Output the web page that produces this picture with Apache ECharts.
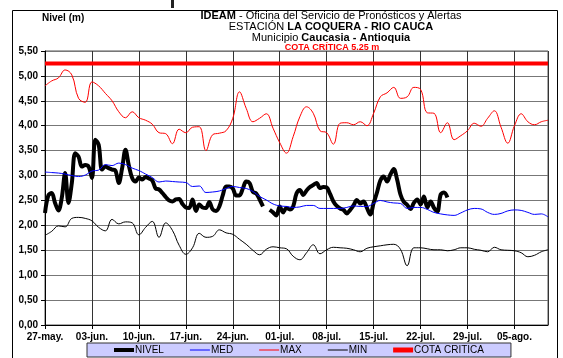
<!DOCTYPE html>
<html>
<head>
<meta charset="utf-8">
<script src="https://cdn.jsdelivr.net/npm/echarts@6/dist/echarts.min.js"></script>
<style>
html,body{margin:0;padding:0;background:#fff;}
#c{width:563px;height:358px;}
</style>
</head>
<body>
<div id="c"></div>
<script>
// ---- Data ----
var xTickLabels = ['27-may.','03-jun.','10-jun.','17-jun.','24-jun.','01-jul.','08-jul.','15-jul.','22-jul.','29-jul.','05-ago.'];
var yTickLabels = ['0,00','0,50','1,00','1,50','2,00','2,50','3,00','3,50','4,00','4,50','5,00','5,50'];
var seriesNames = ['NIVEL','MED','MAX','MIN','COTA CRITICA'];
var cotaCritica = 5.25;
var daysShown = 75;

// NIVEL: two readings per day starting 27-may (null = missing)
var nivel = [2.25,2.60,2.65,2.45,2.30,2.55,3.05,2.45,2.85,3.45,
  3.38,3.18,3.21,3.18,2.95,3.72,3.62,3.12,3.18,3.15,
  3.12,3.10,2.85,3.15,3.52,3.20,2.95,2.88,2.96,2.92,
  2.97,2.94,2.90,2.74,2.72,2.65,2.57,2.50,2.48,2.52,
  2.53,2.43,2.36,2.35,2.52,2.29,2.42,2.36,2.35,2.47,
  2.32,2.29,2.38,2.60,2.78,2.78,2.74,2.60,2.60,2.74,
  2.88,2.85,2.67,2.64,2.52,2.38,null,2.31,2.26,2.20,
  2.38,2.26,2.35,2.32,2.38,2.64,2.71,2.61,2.70,2.77,
  2.81,2.85,2.75,2.77,2.76,2.63,2.48,2.39,2.34,2.31,
  2.24,2.31,2.40,2.51,2.44,2.48,2.35,2.22,2.45,2.66,
  2.90,2.98,2.88,3.02,3.13,2.92,2.62,2.47,2.41,2.33,
  2.45,2.52,2.42,2.58,2.36,2.48,2.35,2.28,2.62,2.66,
  2.56];

// Daily historical statistics starting 27-may
var med = [3.07,3.06,3.05,3.03,3.00,2.98,3.01,3.09,3.11,3.22,
  3.20,3.25,3.22,3.15,3.10,3.03,2.96,2.87,2.89,2.88,
  2.87,2.86,2.78,2.79,2.66,2.67,2.69,2.74,2.78,2.76,
  2.74,2.68,2.58,2.51,2.43,2.39,2.38,2.36,2.37,2.40,
  2.40,2.34,2.34,2.34,2.34,2.36,2.39,2.38,2.38,2.44,
  2.50,2.47,2.45,2.44,2.34,2.36,2.36,2.32,2.26,2.23,
  2.21,2.20,2.25,2.31,2.34,2.33,2.26,2.22,2.24,2.29,
  2.31,2.30,2.26,2.22,2.23,2.17];
var max = [4.80,4.90,4.96,5.12,5.02,4.55,4.47,4.88,4.80,4.65,
  4.50,4.28,4.16,4.28,4.16,4.11,4.03,3.86,3.84,3.64,
  3.93,3.86,3.97,3.98,3.50,3.82,3.85,3.90,4.15,4.68,
  4.35,4.08,4.15,4.24,3.95,3.66,3.45,3.78,4.18,4.38,
  4.25,3.90,3.86,3.63,4.05,4.06,4.02,4.08,4.00,4.25,
  4.58,4.66,4.77,4.55,4.58,4.77,4.73,4.26,4.25,3.86,
  4.06,3.72,3.80,3.90,4.05,3.99,4.15,4.30,3.97,3.65,
  4.00,4.24,4.08,4.02,4.08,4.11];
var min = [1.80,1.88,1.99,1.97,2.14,2.16,2.14,2.09,1.96,1.89,
  2.12,2.03,2.07,2.05,1.81,1.96,2.08,1.76,2.05,1.90,
  1.60,1.42,1.55,1.84,1.76,1.78,1.91,1.85,1.82,1.72,
  1.62,1.50,1.41,1.52,1.57,1.55,1.53,1.38,1.31,1.45,
  1.61,1.43,1.51,1.56,1.55,1.54,1.51,1.47,1.54,1.57,
  1.59,1.61,1.62,1.52,1.19,1.55,1.55,1.53,1.51,1.51,
  1.49,1.51,1.55,1.55,1.52,1.50,1.47,1.56,1.51,1.50,
  1.49,1.45,1.37,1.40,1.47,1.51];

// ---- Build series data (x = day offset from 27-may) ----
function daily(arr){ return arr.map(function(v,i){ return [i, v]; }); }
function halfDaily(arr){ return arr.map(function(v,i){ return [i/2, v]; }); }

var FONT = '"Liberation Sans", Arial, sans-serif';
var thickIcon = 'path://M0,0L20,0L20,4L0,4Z';
var thinIcon = 'path://M0,0L20,0L20,1L0,1Z';
var boldIcon = 'path://M0,0L20,0L20,5L0,5Z';
var legendIcons = [thickIcon, thinIcon, thinIcon, thinIcon, boldIcon];

var chart = echarts.init(document.getElementById('c'), null, {renderer:'canvas'});
chart.setOption({
  animation: false,
  backgroundColor: '#ffffff',
  textStyle: {fontFamily: FONT},
  title: [
    {
      text: '{b|IDEAM} - Oficina del Servicio de Pronósticos y Alertas\nESTACIÓN {b|LA COQUERA - RIO CAUCA}\nMunicipio {b|Caucasia - Antioquia}',
      left: 331, top: 10, textAlign: 'center',
      padding: 0,
      textStyle: {
        fontSize: 11, fontWeight: 'normal', color: '#000', lineHeight: 11, fontFamily: FONT,
        rich: { b: {fontSize: 11, fontWeight: 'bold', color: '#000', lineHeight: 11, fontFamily: FONT} }
      }
    },
    {
      text: 'COTA CRÍTICA 5.25 m',
      left: 332, top: 43, textAlign: 'center', padding: 0,
      textStyle: {fontSize: 9, fontWeight: 'bold', color: '#ff0000', fontFamily: FONT}
    },
    {
      text: 'Nivel (m)',
      left: 42, top: 13, padding: 0,
      textStyle: {fontSize: 10, fontWeight: 'bold', color: '#000', fontFamily: FONT}
    }
  ],
  graphic: [
    {type:'rect', shape:{x:12.5, y:10.5, width:545, height:370}, style:{fill:'none', stroke:'#000', lineWidth:1}, silent:true},
    {type:'rect', shape:{x:171, y:0, width:3, height:8}, style:{fill:'#222'}, silent:true}
  ],
  legend: {
    data: seriesNames.map(function(n, i){ return {name: n, icon: legendIcons[i]}; }),
    left: 87, top: 343,
    itemGap: 26,
    itemWidth: 20, itemHeight: 12,
    symbolKeepAspect: true,
    padding: [2, 27, 2, 27],
    backgroundColor: '#ccccff',
    borderColor: '#333', borderWidth: 1, borderRadius: 0,
    itemStyle: {borderWidth: 0},
    textStyle: {fontSize: 10, color: '#000', fontFamily: FONT, padding: [0,0,0,-4]}
  },
  grid: {left: 45, right: 15, top: 51, bottom: 33, show: true, borderColor: '#555', borderWidth: 1, containLabel: false},
  xAxis: {
    type: 'value', min: 0, max: daysShown, interval: 7,
    axisLine: {show: true, lineStyle: {color: '#000', width: 1}},
    axisTick: {show: true, inside: false, length: 4, lineStyle: {color: '#000'}},
    splitLine: {show: true, lineStyle: {color: '#333', width: 1}},
    axisLabel: {
      showMaxLabel: false, margin: 7,
      fontSize: 10, fontWeight: 'bold', color: '#000', fontFamily: FONT,
      formatter: function(v){ return (v % 7 === 0 && xTickLabels[v/7]) ? xTickLabels[v/7] : ''; }
    }
  },
  yAxis: {
    type: 'value', min: 0, max: 5.5, interval: 0.5,
    axisLine: {show: true, lineStyle: {color: '#000', width: 1}},
    axisTick: {show: true, inside: false, length: 4, lineStyle: {color: '#000'}},
    splitLine: {show: true, lineStyle: {color: '#777', width: 1}},
    axisLabel: {
      margin: 7, fontSize: 10, fontWeight: 'bold', color: '#000', fontFamily: FONT,
      formatter: function(v){ return yTickLabels[Math.round(v/0.5)]; }
    }
  },
  series: [
    {name: 'NIVEL', type: 'line', data: halfDaily(nivel), showSymbol: false, symbol: 'none', smooth: 0.35, connectNulls: false,
     lineStyle: {color: '#000', width: 4}, itemStyle: {color: '#000'}, z: 3},
    {name: 'MED', type: 'line', data: daily(med), showSymbol: false, symbol: 'none', smooth: 0.4,
     lineStyle: {color: '#0000ff', width: 1}, itemStyle: {color: '#0000ff'}, z: 4},
    {name: 'MAX', type: 'line', data: daily(max), showSymbol: false, symbol: 'none', smooth: 0.4,
     lineStyle: {color: '#ff0000', width: 1}, itemStyle: {color: '#ff0000'}, z: 4},
    {name: 'MIN', type: 'line', data: daily(min), showSymbol: false, symbol: 'none', smooth: 0.4,
     lineStyle: {color: '#000', width: 1}, itemStyle: {color: '#000'}, z: 4},
    {name: 'COTA CRITICA', type: 'line', data: [[0, cotaCritica], [daysShown, cotaCritica]], showSymbol: false, symbol: 'none',
     lineStyle: {color: '#ff0000', width: 4}, itemStyle: {color: '#ff0000'}, z: 4}
  ]
});
</script>
</body>
</html>
